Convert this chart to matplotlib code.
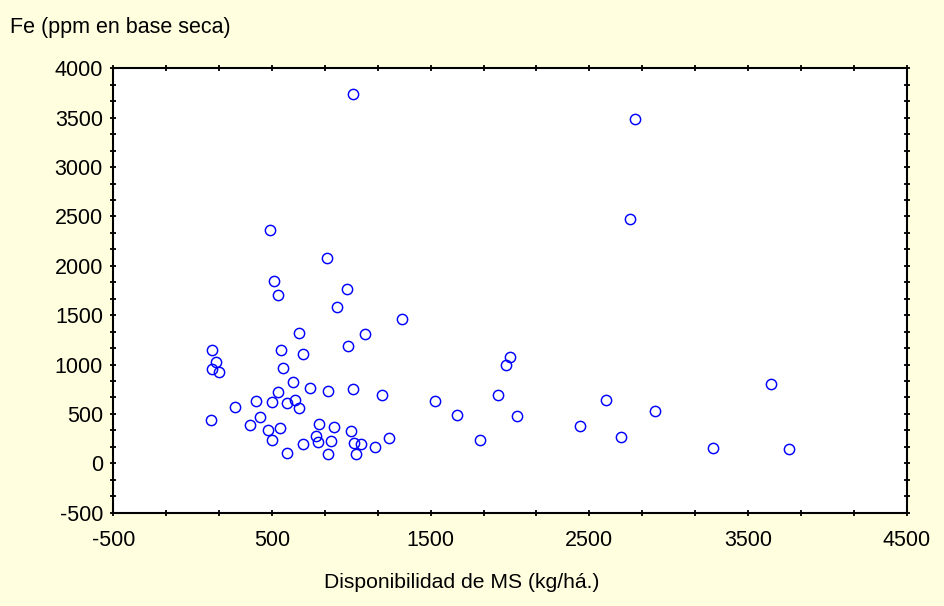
import matplotlib
matplotlib.use("Agg")
import matplotlib.pyplot as plt
from matplotlib.ticker import FixedLocator

plt.rcParams['font.family'] = ['Liberation Sans', 'DejaVu Sans']
plt.rcParams['axes.unicode_minus'] = False

ms_disp = [1010, 2785, 2754, 487, 846, 515, 974, 538, 907, 1320, 668, 1087, 981,
           123, 557, 695, 150, 121, 167, 567, 635, 739, 855, 1009, 1192, 538, 399,
           498, 643, 597, 670, 265, 114, 427, 364, 473, 550, 498, 597, 695, 798,
           892, 777, 789, 874, 855, 995, 1014, 1060, 1028, 1148, 1236, 1997, 1972,
           1525, 1926, 1666, 2041, 1808, 2603, 2443, 2915, 2701, 3642, 3279, 3758]
fe_ppm = [3740, 3490, 2477, 2365, 2082, 1842, 1765, 1701, 1583, 1462, 1317, 1306, 1192,
          1152, 1152, 1111, 1030, 957, 929, 963, 828, 760, 737, 750, 687, 724, 626,
          623, 646, 606, 562, 568, 434, 471, 386, 340, 356, 232, 103, 198, 400,
          363, 272, 214, 221, 97, 326, 208, 198, 97, 168, 259, 1078, 993,
          626, 687, 487, 474, 232, 641, 381, 527, 263, 803, 155, 142]

x_ticks = [-500, 500, 1500, 2500, 3500, 4500]
y_ticks = [-500, 0, 500, 1000, 1500, 2000, 2500, 3000, 3500, 4000]

x_label = "Disponibilidad de MS (kg/há.)"
y_label = "Fe (ppm en base seca)"

bg = '#FFFFE0'
fig = plt.figure(figsize=(9.45, 6.06), dpi=100, facecolor=bg)
ax = fig.add_axes([0.1199, 0.154, 0.8396, 0.7333])
ax.set_facecolor('white')

ax.plot(ms_disp, fe_ppm, linestyle='none', marker='o', markersize=7.4,
        markerfacecolor='none', markeredgecolor='#0000FF', markeredgewidth=1.05)

ax.set_xlim(x_ticks[0], x_ticks[-1])
ax.set_ylim(y_ticks[0], y_ticks[-1])
ax.xaxis.set_major_locator(FixedLocator(x_ticks))
ax.yaxis.set_major_locator(FixedLocator(y_ticks))
x_minor = [x_ticks[0] + i * 1000 / 3 for i in range(16)]
y_minor = [y_ticks[0] + i * 500 / 3 for i in range(28)]
ax.xaxis.set_minor_locator(FixedLocator(x_minor))
ax.yaxis.set_minor_locator(FixedLocator(y_minor))

for s in ax.spines.values():
    s.set_linewidth(1.5)
    s.set_color('black')

ax.tick_params(which='both', direction='inout', top=True, right=True,
               width=1.3, color='black', labelsize=15.5)
ax.tick_params(which='major', length=5)
ax.tick_params(which='minor', length=4.5)
ax.tick_params(axis='x', which='both', pad=10)
ax.tick_params(axis='y', which='both', pad=5)

fig.text(462 / 945, 1 - 582 / 606, x_label, fontsize=15.2, ha='center', va='center')
fig.text(10 / 945, 1 - 28 / 606, y_label, fontsize=15.5, ha='left', va='center')

fig.savefig('out.png', dpi=100, facecolor=bg)
